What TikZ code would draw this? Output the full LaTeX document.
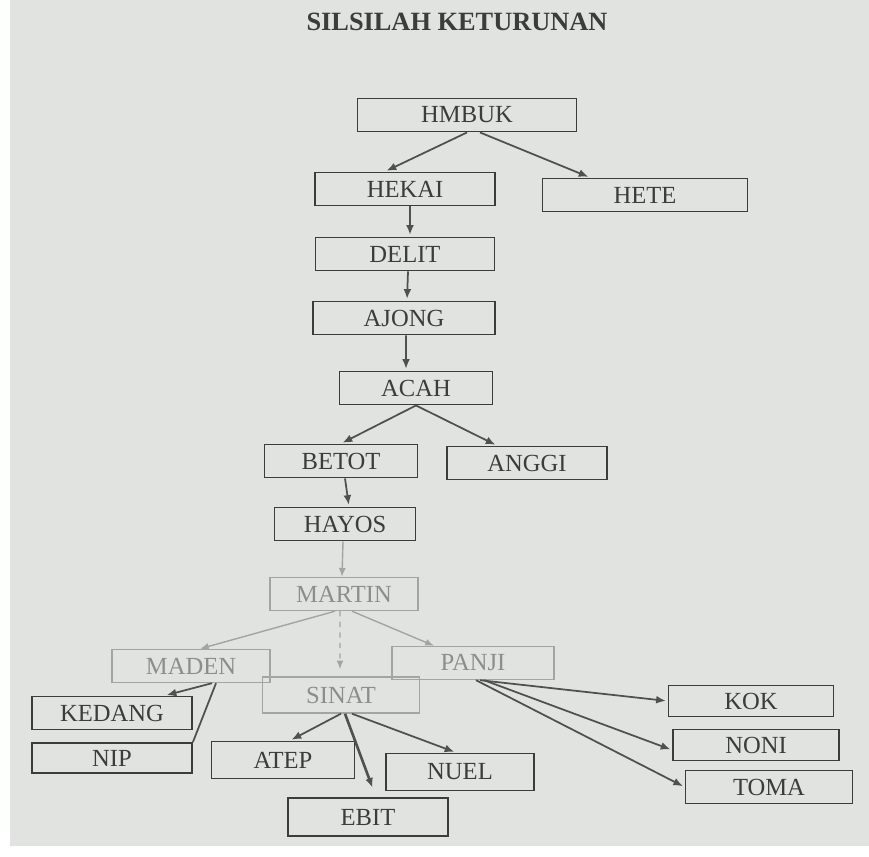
\documentclass[tikz,border=0pt]{standalone}
\usepackage{fontspec}
\setmainfont{Liberation Serif}
\usepackage{xcolor}
\usetikzlibrary{arrows.meta}

\definecolor{paper}{HTML}{E1E3E0}
\definecolor{ink}{HTML}{3C3C3C}
\definecolor{faded}{HTML}{8C8E8C}

\begin{document}
\begin{tikzpicture}[x=0.02cm,y=-0.02cm]
  \tikzset{vertex/.style = {shape=rectangle,draw=ink,line width=1.1pt,text=ink,minimum height=0.66cm,inner sep=1pt,font=\fontsize{14}{16}\selectfont}}
  \tikzset{pale/.style = {draw=faded!80,text=faded,line width=0.8pt}}
  \tikzset{edge/.style = {-{Latex[length=5.5pt,width=4.5pt]},draw=ink!90,line width=1pt,shorten >=1pt}}
  \tikzset{paleedge/.style = {-{Latex[length=5pt,width=4pt]},draw=faded!80,line width=0.8pt}}

  \fill[paper] (0,0) rectangle (869,857);
  \fill[white] (0,0) rectangle (10,857);
  \fill[white] (0,846) rectangle (869,857);

	\node[text=ink,font=\bfseries\fontsize{15}{17}\selectfont] (title) at (457,22) {SILSILAH KETURUNAN};

	\node[vertex,minimum width=4.38cm] (hmbuk) at (467,115) {HMBUK};

	\node[vertex,minimum width=3.6cm] (hekai) at (405,189) {HEKAI};
	\node[vertex,minimum width=4.1cm] (hete) at (645,195) {HETE};

		\node[vertex,minimum width=3.58cm] (delit) at (405,254) {DELIT};
		\node[vertex,minimum width=3.64cm] (ajong) at (404,318) {AJONG};
		\node[vertex,minimum width=3.06cm] (acah) at (416,388) {ACAH};

			\node[vertex,minimum width=3.06cm] (betot) at (341,461) {BETOT};
			\node[vertex,minimum width=3.2cm] (anggi) at (527,463) {ANGGI};

			\node[vertex,minimum width=2.82cm] (hayos) at (345,524) {HAYOS};
			\node[vertex,pale,minimum width=2.96cm] (martin) at (344,594) {MARTIN};

				\node[vertex,pale,minimum width=3.16cm] (maden) at (191,666) {MADEN};
				\node[vertex,pale,minimum width=3.14cm,minimum height=0.72cm] (sinat) at (341,695) {SINAT};
				\node[vertex,pale,minimum width=3.24cm] (panji) at (473,663) {PANJI};

					\node[vertex,minimum width=3.2cm] (kedang) at (112,713) {KEDANG};
					\node[vertex,minimum width=3.2cm,minimum height=0.6cm] (nip) at (112,758) {NIP};

					\node[vertex,minimum width=2.86cm,minimum height=0.74cm] (atep) at (283,760) {ATEP};
					\node[vertex,minimum width=2.96cm,minimum height=0.74cm] (nuel) at (460,772) {NUEL};
					\node[vertex,minimum width=3.2cm,minimum height=0.76cm] (ebit) at (368,817) {EBIT};

					\node[vertex,minimum width=3.3cm,minimum height=0.62cm] (kok) at (751,701) {KOK};
					\node[vertex,minimum width=3.32cm,minimum height=0.62cm] (noni) at (756,745) {NONI};
					\node[vertex,minimum width=3.34cm] (toma) at (769,787) {TOMA};

    \foreach \from/\fx/\to/\tx/\ty in {hmbuk.south/0/hekai.north/-0.4/0,
    hmbuk.south/0.26/hete.north/-1.1/0,
    hekai.south/0.1/delit.north/0.1/0,
    delit.south/0.06/ajong.north/0.06/0,
    ajong.south/0.04/acah.north/-0.2/0,
    acah.south/0/betot.north/0/0,acah.south/0/anggi.north/-0.6/0,
    betot.south/0.08/hayos.north/0.08/0,
    maden.south/0.42/kedang.north/1.06/0,
    sinat.south/0/atep.north/0.14/0,
    sinat.south/0.22/nuel.north/-0.08/0,
    panji.south/0.14/kok.west/0/0,
    panji.south/0.22/noni.west/0/-0.1,
    panji.south/0.06/toma.west/0/0
    }
    \draw[edge] ([xshift=\fx cm]\from) -- ([xshift=\tx cm,yshift=\ty cm]\to);

    \draw[edge,line width=1.5pt,shorten >=0.2cm] ([xshift=0.08cm]sinat.south) -- ([xshift=0.16cm]ebit.north);
    \draw[ink!90,line width=1pt] ([xshift=0.5cm]maden.south) -- (nip.north east);

    \foreach \from/\fx/\to/\tx in {hayos.south/-0.04/martin.north/-0.04,
    martin.south/-0.18/maden.north/0.18,
    martin.south/0.16/panji.north/-0.78
    }
    \draw[paleedge] ([xshift=\fx cm]\from) -- ([xshift=\tx cm]\to);
    \draw[paleedge,dashed,shorten >=0.14cm] ([xshift=-0.08cm]martin.south) -- ([xshift=-0.02cm]sinat.north);

\end{tikzpicture}
\end{document}
